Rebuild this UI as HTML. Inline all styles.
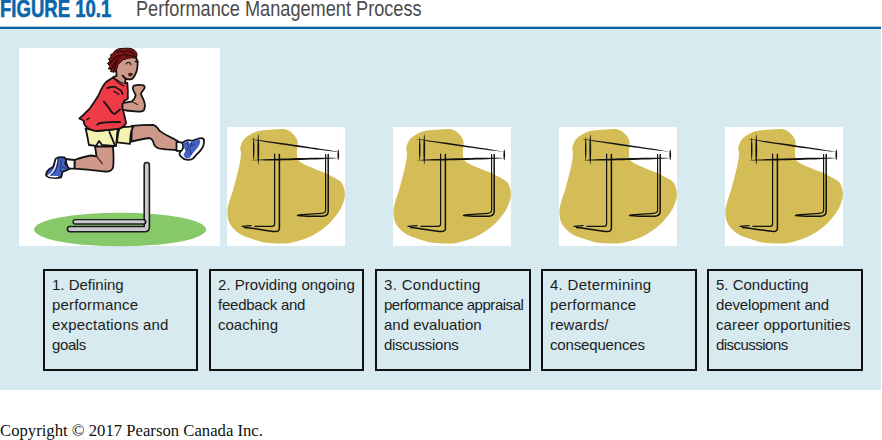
<!DOCTYPE html>
<html><head><meta charset="utf-8">
<style>
html,body{margin:0;padding:0;background:#fff;}
body{width:882px;height:440px;position:relative;overflow:hidden;font-family:"Liberation Sans",sans-serif;}
.abs{position:absolute;}
#fig{left:0.3px;top:-3.3px;font-weight:bold;font-size:24px;color:#0b66aa;transform-origin:0 0;transform:scaleX(0.772);white-space:nowrap;line-height:24px;-webkit-text-stroke:0.6px #0b66aa;}
#ttl{left:136.3px;top:-2.9px;font-size:22.5px;color:#4a4a4a;transform-origin:0 0;transform:scaleX(0.807);white-space:nowrap;line-height:24px;}
#rule{left:0;top:27px;width:881px;height:2px;background:#0662a2;box-shadow:0 -1px 0 rgba(6,98,162,0.35);}
#bg{left:0;top:29px;width:881px;height:361px;background:#d6eaf0;}
.wb{position:absolute;background:#fff;}
.box{position:absolute;top:269px;height:98px;border:2px solid #111;box-sizing:content-box;}
.tx{position:absolute;left:7px;top:4.4px;font-size:15px;line-height:19.85px;color:#1c1c1c;white-space:nowrap;}
#copy{left:0;top:421px;font-family:"Liberation Serif",serif;font-size:16.7px;line-height:20px;color:#111;white-space:nowrap;}
svg{position:absolute;left:0;top:0;}
</style></head>
<body>
<div class="abs" id="fig">FIGURE 10.1</div>
<div class="abs" id="ttl">Performance Management Process</div>
<div class="abs" id="rule"></div>
<div class="abs" id="bg"></div>
<div class="wb" style="left:19px;top:48px;width:201px;height:198px;"></div>
<div class="wb" style="left:227px;top:127px;width:118px;height:119px;"></div>
<div class="wb" style="left:393px;top:127px;width:118px;height:119px;"></div>
<div class="wb" style="left:559px;top:127px;width:118px;height:119px;"></div>
<div class="wb" style="left:725px;top:127px;width:118px;height:119px;"></div>

<svg width="882" height="440" viewBox="0 0 882 440">
<defs>
<g id="hd">
<path d="M16.7,12.6 C18.5,10.3 21.3,8.5 24.0,7.0 C26.7,5.5 29.4,4.5 33.1,3.8 C36.8,3.1 41.7,2.8 46.0,2.6 C50.3,2.4 55.7,1.7 59.0,2.4 C62.3,3.1 64.0,5.1 65.8,6.8 C67.6,8.5 69.1,10.7 69.9,12.6 C70.7,14.5 70.6,15.8 70.6,18.1 C70.6,20.4 69.6,23.6 69.9,26.3 C70.2,29.0 69.9,32.0 72.6,34.5 C75.3,37.0 81.8,39.3 86.3,41.3 C90.8,43.3 95.6,44.7 99.9,46.7 C104.2,48.8 109.5,51.6 112.2,53.6 C114.9,55.6 115.3,56.7 116.3,59.0 C117.2,61.3 117.9,64.5 117.9,67.2 C117.9,69.9 117.5,72.2 116.3,75.4 C115.1,78.6 113.5,82.4 110.8,86.3 C108.1,90.2 104.0,95.0 99.9,98.6 C95.8,102.2 90.8,105.6 86.3,108.1 C81.8,110.6 77.1,112.2 72.6,113.6 C68.0,115.0 64.5,116.0 59.0,116.4 C53.5,116.8 45.4,116.5 39.9,115.8 C34.4,115.1 30.9,113.7 26.3,112.2 C21.8,110.7 16.5,109.2 12.6,106.7 C8.7,104.2 5.1,100.6 3.1,97.2 C1.1,93.8 0.6,89.7 0.4,86.3 C0.2,82.9 0.6,81.2 1.7,76.7 C2.8,72.2 5.4,65.6 7.2,59.0 C9.0,52.4 11.5,42.7 12.6,37.2 C13.7,31.8 13.9,29.0 14.0,26.3 C14.1,23.6 12.9,23.1 13.3,20.8 C13.8,18.5 14.9,14.9 16.7,12.6 Z" fill="#d4bc57"/>
<path d="M22.6,12.1 C40.3,15.67 93.82,23.41 111.8,25.0 C94.1,21.43 40.58,13.69 22.6,12.1 Z M23.0,33.2 C40.95,34.01 94.71,32.63 112.6,30.9 C94.65,30.09 40.89,31.47 23.0,33.2 Z M26.7,9.8 C25.7,14.64 25.7,29.16 26.7,34.0 C27.7,29.16 27.7,14.64 26.7,9.8 Z M31.3,6.8 C30.1,13.04 30.1,31.76 31.3,38.0 C32.5,31.76 32.5,13.04 31.3,6.8 Z M111.3,22.3 C110.17,24.56 110.17,31.34 111.3,33.6 C112.43,31.34 112.43,24.56 111.3,22.3 Z" fill="#111"/>
<g fill="none" stroke="#111" stroke-linecap="round">
<path d="M47.6,27.1 L47.6,97 C47.6,98.6 46.6,99.3 45,99.3 L28,99.4 M24,98.6 L15,99.4" stroke-width="1.2"/>
<path d="M52.4,27.6 L52.4,101.5 C52.2,103.5 50.8,104.6 48.5,104.6 C40,103.8 28,101.4 17.5,100.4" stroke-width="1.5"/>
<path d="M98.6,27.6 L98.6,83 C98.6,85 97,86.2 94.5,86.3 L72,87.8" stroke-width="1.2"/>
<path d="M101.2,27.6 L101.2,84.5 C101.1,87.2 99,89 95.5,89.2 C88,89.4 78,89 70.5,88.4" stroke-width="1.5"/>
</g>
</g>
</defs>
<use href="#hd" x="227" y="127"/>
<use href="#hd" x="393" y="127"/>
<use href="#hd" x="559" y="127"/>
<use href="#hd" x="725" y="127"/>

<!-- runner -->
<ellipse cx="120.1" cy="229.5" rx="86" ry="16.8" fill="#87c968"/>
<g stroke-linecap="round" stroke-linejoin="round" fill="none">
<path d="M146.8,165.1 L146.8,227 Q146.8,229.1 144.7,229.1 L70,229.1" stroke="#1c1c1c" stroke-width="6.8"/>
<path d="M146.8,165.1 L146.8,227 Q146.8,229.1 144.7,229.1 L70,229.1" stroke="#c8c8ce" stroke-width="3.6"/>
<path d="M75.3,221.8 L143.6,221.8" stroke="#1c1c1c" stroke-width="5.8"/>
<path d="M75.3,221.8 L143.2,221.8" stroke="#c8c8ce" stroke-width="3"/>
</g>
<g stroke="#141414" stroke-width="1.8" stroke-linejoin="round" stroke-linecap="round">
<!-- back leg -->
<path d="M95,146.5 L113,146.5 C113.5,153 114,161 113,167.8 C111.5,171 108,171.8 104.7,171.5 C100,171 90,169.5 74.5,168.6 L74.5,160 C80,158 86,156 91.6,155.5 L96.5,156.4 C96,153 95.5,149 95,146.5 Z" fill="#cf998a"/>
<path d="M96.5,156.4 L102.3,163.7" fill="none" stroke="#4a2218" stroke-width="1.2"/>
<path d="M65.2,159 L74.5,160 L74.5,168.6 L67.9,168.7 Z" fill="#fff"/>
<path d="M55.6,158.9 C57,157.8 58.5,157.2 59.7,157.2 C61.5,157.2 63,157.2 64.5,157.5 C65.5,158.3 66,159.2 65.9,160.2 C65.6,161.5 65.3,162.5 65.2,163.6 C66,164.8 67,166 67.9,167 C68.6,167.7 69.2,168.4 69.3,169.1 C67.5,170.2 65,171 62.5,171.8 C62,173.8 61.8,175.5 61.1,177.3 C59.5,177.8 57.5,178 55.6,178 C53,177.8 50.5,177.6 48.8,177.3 C47.6,176.7 46.6,176 46.1,175.2 C46.2,174 46.4,173 46.8,171.8 C48,170.5 49,169.3 50.2,168.4 C51.2,167.8 52,167.4 52.9,167 C53.5,165.8 53.9,164.8 54.3,163.6 C54.6,162 55,160.5 55.6,158.9 Z" fill="#4462c4"/>
<path d="M56.9,159.8 C56.3,163 55.6,166.5 54.2,169.5 C52.8,172.3 50.5,174.3 48.2,175.6 C50.5,176.6 54,176.9 57.5,176.7" fill="none" stroke="#fff" stroke-width="1.3"/>
<path d="M58.3,159.5 C57.8,163 57.2,166.8 55.8,170 C54.6,172.5 52.8,174.2 51,175.2" fill="none" stroke="#111" stroke-width="0.8"/>
<path d="M61,160 C61.3,164 61.2,168 60.2,171.5 M62.5,167 L66.5,168.6" fill="none" stroke="#1c2a6a" stroke-width="0.9"/>
<!-- front leg -->
<path d="M131.6,125.9 C140,125 148,124.8 153.1,124.8 C155,125.5 156,126 156.7,127.1 C158,128.5 159,130 159.5,130.7 C162,132.5 164,134 166.7,135.3 C169,136.5 172,138 174,138.9 L178.5,141.6 L176.5,150 C172,149.8 170,149.6 166.7,149.4 C162,149 159,148.5 157.6,148 C155,146.5 154.5,145.5 154,144.4 C153.5,142 153,140.8 152.2,139.8 C151,138.6 150,138.2 149.5,138 C146,138.4 140,139.5 131.6,141.5 Z" fill="#cf998a"/>
<path d="M176.5,141.8 L182.5,142.6 L184.3,151 L176.5,150.8 Z" fill="#fff"/>
<path d="M182.2,142.9 C184,141.5 186,140.3 187.7,140.1 C189.5,140.3 191,140.8 192.4,140.8 C194.5,140 196.5,139.2 197.9,138.8 C199.5,138.2 201,138 202,138.1 C203.5,138.8 204.2,139.8 204,140.8 C204,142.5 203.8,144 203.4,145.6 C202.5,147.5 201.6,149 200.6,150.4 C199.3,152 198,153.3 196.5,154.5 C195.3,156 194.3,157.5 193.1,158.5 C191.8,159.3 190.5,159.8 189,159.9 C187.3,159.8 185.8,159.6 184.3,159.2 C182.6,158 181,157 180.2,155.8 C179.7,154.8 179.4,154 179.5,153.1 C180.3,151.8 181.3,150.8 182.2,149.7 C182.8,148.5 183.3,147.3 183.6,146.3 C183.4,145 182.8,144 182.2,142.9 Z" fill="#fff"/>
<path d="M183.6,142.9 C185,141.5 186.5,140.6 187.7,140.5 C188.8,141.5 189.3,142.5 189.7,143.5 C190.5,142.5 191.3,141.8 192.4,141.5 C194.5,140.6 196.3,139.8 197.9,139.5 C198.8,139.4 199.6,139.9 200.2,140.8 C200.2,142.3 199.9,143.7 199.3,144.9 C198.3,146.6 197.1,148.2 195.9,149.7 C194.7,151 193.4,152.4 192.4,153.8 C191.5,155.2 190.6,156.6 189.7,157.9 C188.4,158.4 186.9,158.4 185.6,157.9 C184.6,156.9 183.8,155.8 183.6,154.5 C184.1,153.3 184.9,152.1 185.6,151 C185,149.7 184.2,148.4 183.6,147 C183.5,145.6 183.5,144.2 183.6,142.9 Z" fill="#4462c4" stroke="none"/>
<path d="M187.5,143 L188.6,147.2 L186.4,150.6 M191.5,142.8 L190.5,146.6 L194.5,144.2 M189.6,149.2 L191.2,154.6" fill="none" stroke="#1c2a6a" stroke-width="0.9"/>
<!-- shorts -->
<path d="M85.6,128.6 C92,130 100,131 104.5,130.3 C110,129.8 115,129.4 119.2,128.6 L117.5,131 L116,146.2 L102,145 L99.1,140.9 L96.3,145.8 L88.9,145 C88,140 87,134 85.6,128.6 Z" fill="#f6f3b2"/>
<path d="M109.4,131.9 L115.1,145.8" fill="none"/>
<path d="M120.2,127.5 C124,127 128,126.5 133.3,126.7 C132,129 131,131 130.8,133.3 C130.3,137 130.2,140 130,143.9 L116.9,142.3 C117.5,138 118,134 118.5,131.5 C119,130 119.5,128.5 120.2,127.5 Z" fill="#f6f3b2"/>
<!-- shirt -->
<path d="M106,82.2 C108.5,80.5 111,78.5 113.7,76.9 C116.5,78.8 119.5,80.8 122,82.2 C124,82.9 126,83 127.3,82.8 C127.8,88 128,94 127.8,98.8 L124,101 L123,110 C124,114 125.5,119 126,123.5 C124,126.5 122,128 119.2,128.6 C112,129.5 104,130.3 96.3,131.1 C92,130.5 88,129 85.6,126.2 C84,124 83.5,122 84.2,121.4 C82.5,120 80.5,119 79.3,118.5 C84,114.8 88,110 89.9,108.3 C93,104 96,99.5 98.1,96 C100.5,91 103,85 106,82.2 Z" fill="#ee3b47"/>
<g fill="none">
<path d="M107.2,88.1 C110,87 112.5,86.7 114.9,86.9 C117,88 119.5,89.3 120.8,90.5 C121.6,91.6 122.2,92.8 122.6,94"/>
<path d="M113.9,91.3 C116,92 117.5,93 118.8,94.5" stroke-width="1.3"/>
<path d="M103.8,101.7 C106,104 109,108 112,112.4 C113,113.5 114,114 115,113.7 L120,109.5"/>
<path d="M97.3,124.6 C98.5,123.5 99.5,123.2 100.5,123 C105,122.6 108,122.4 112,122.2 L120,122"/>
<path d="M114.9,79.2 C116.5,80.8 118,82.2 119.6,83.4 C121,84.5 122.5,85.3 123.8,85.8" stroke-width="1.3"/>
<path d="M86.6,119.7 L89.1,118.1" stroke-width="1.3"/>
</g>
<!-- arm -->
<path d="M122.5,103.5 C126,102.5 129,102 132,101.3 C134,99.5 135.5,97 135.6,94.7 C134.5,92.5 133,90.5 132.8,88.5 C132.8,86.5 133.3,85.8 134,85.6 C137,84.8 141,84.8 143.5,85.3 C144.8,86 145,87.5 144.2,88.8 C143,90.5 141.5,92 141,94 C141.5,96 143,98 144,101 C145,104 145,108 144,110 C143,111.5 141,111.8 138,111.7 L126,110.5 L122.5,109.5 Z" fill="#cf998a"/>
<path d="M132.7,102 L137.6,104.5" fill="none" stroke="#4a2218" stroke-width="1.1"/>
<!-- face -->
<path d="M120.4,62.4 C122.8,59.9 126,59 131,57.5 L136.3,58.3 C137.3,60 137.8,63 137.6,65 C137.4,68 137,70 136.3,72.2 C135.5,74 134.8,75.5 134.3,76.3 C133.5,77.5 132.8,78.5 132,79 L125.6,79 L125.2,82.6 L127.3,82.8 C126,83 124,82.9 122,82.2 C119.5,80.8 116.5,78.8 113.7,76.9 L116.7,75.7 C116.3,73 116,70 116,68 L117.9,64.8 Z" fill="#cf998a" stroke="none"/>
<g fill="none">
<path d="M136.3,58.3 C137.3,60 137.8,63 137.6,65 C137.4,68 137,70 136.3,72.2 C135.5,74 134.8,75.5 134.3,76.3 C133.5,77.5 132.8,78.5 132,79 C130,79.4 127.5,79.3 126,78.8 C124.8,78 123.6,76.8 122.6,75.7"/>
<path d="M125.6,79 L125.1,82.4"/>
<path d="M116,68 C116.2,71 116.4,74 116.7,75.7 C116,76.2 114.8,76.6 113.7,76.9"/>
</g>
<!-- hair -->
<path d="M113.5,72 L110.5,71.5 L111.6,69.6 L108.3,68.8 L109.9,66.4 L107.6,63.2 L109.9,61.6 L108.6,58.6 L110.9,57.6 L110.7,54.6 L113.1,53.6 C114,51 116,49.5 119,48.8 C123,48.2 128,48 131,48.6 C134,49.5 136,51 136.8,53.5 C137.2,55.5 136.8,57 136,58 L131,57.8 C128,58 126,59 122.8,60 C121.6,60.8 121,61.5 120.4,62.4 C119.5,63.3 118.5,64 117.9,64.8 C117.3,67 116.8,69 116.3,70.5 C115.5,71.5 114.5,72 113.5,72 Z" fill="#7c1515" stroke="#1a0303" stroke-width="1"/>
<g fill="none" stroke-width="1.2" stroke="#2a0505">
<path d="M110,64 C112,60 115,57 119,55"/>
<path d="M111.5,69 C113,65 115,62 118,59"/>
<path d="M116,52 C119,51 122,51 125,52"/>
<path d="M127,51 C130,51 132,52 134,54"/>
<path d="M119,57 C121,55 124,54 127,54.5"/>
<path d="M126,56 C129,55 132,55.5 135,56.5"/>
<path d="M114,70 C114.5,67 115.5,64.5 117,62"/>
</g>
<g fill="none" stroke-width="1.1">
<path d="M126.1,64 C127,62.5 128.5,62 129.4,62.4 C130.2,62.8 130.7,63.8 131,64.8"/>
<path d="M135.3,61.5 L138.2,62" stroke-width="1.3"/>
</g>
<path d="M128.8,73.6 C130,73 132,73.2 132.6,74 C132,75.5 130.5,76.3 129.5,76 Z" fill="#6b1d1d" stroke-width="0.8"/>
</g>
</svg>

<div class="box" style="left:43px;width:151px;"><div class="tx">1. Defining<br><span style="letter-spacing:0.18px">performance</span><br><span style="letter-spacing:0.2px">expectations and</span><br><span style="letter-spacing:-0.4px">goals</span></div></div>
<div class="box" style="left:209px;width:151px;"><div class="tx">2. Providing ongoing<br><span style="letter-spacing:-0.24px">feedback and</span><br>coaching</div></div>
<div class="box" style="left:375px;width:152px;"><div class="tx"><span style="letter-spacing:0.32px">3. Conducting</span><br><span style="letter-spacing:-0.47px">performance appraisal</span><br>and evaluation<br><span style="letter-spacing:-0.28px">discussions</span></div></div>
<div class="box" style="left:541px;width:152px;"><div class="tx"><span style="letter-spacing:0.28px">4. Determining</span><br><span style="letter-spacing:0.2px">performance</span><br><span style="letter-spacing:0.14px">rewards/</span><br><span style="letter-spacing:-0.16px">consequences</span></div></div>
<div class="box" style="left:707px;width:152px;"><div class="tx">5. Conducting<br><span style="letter-spacing:-0.14px">development and</span><br><span style="letter-spacing:0.1px">career opportunities</span><br><span style="letter-spacing:-0.53px">discussions</span></div></div>

<div class="abs" id="copy">Copyright © 2017 Pearson Canada Inc.</div>
</body></html>
